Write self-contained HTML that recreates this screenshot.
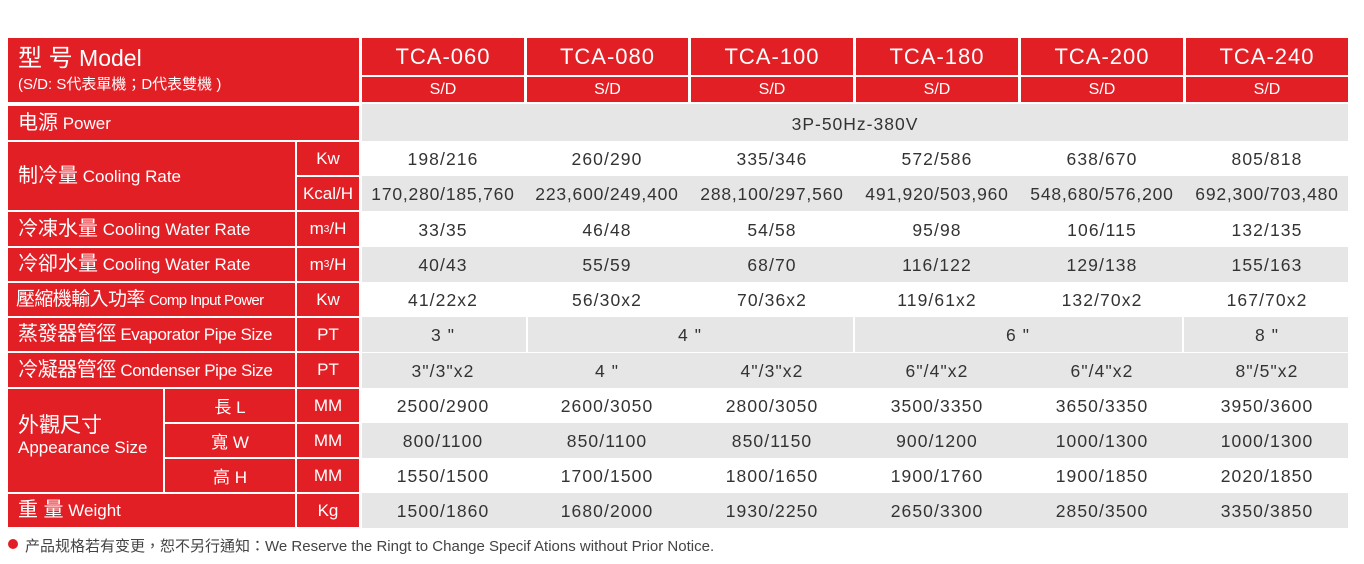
<!DOCTYPE html>
<html><head><meta charset="utf-8"><style>
body{margin:0;width:1364px;height:564px;background:#fff;position:relative;overflow:hidden;font-family:"Liberation Sans","Noto Sans CJK TC",sans-serif;}
div{position:absolute;box-sizing:border-box;}
.r{background:#e31f26;color:#fff;}
.g{background:#e6e6e6;}
.c{display:flex;align-items:center;justify-content:center;}
.l{padding-left:10px;font-size:17px;white-space:nowrap;line-height:34px;}
.l b{font-weight:normal;font-size:20px;}
.t{color:#333;font-size:17.5px;text-align:center;width:200px;margin-left:-100px;white-space:nowrap;letter-spacing:1.1px}
.k{letter-spacing:0.8px}
.u{font-size:17px;}
</style></head><body>
<div class="r" style="left:8px;top:38px;width:351px;height:64px;padding:5px 0 0 10px;">
<div style="position:static;font-size:23px;line-height:30px"><span style="font-size:24px">型 号</span> Model</div>
<div style="position:static;font-size:15px;line-height:22px">(S/D: S代表單機；D代表雙機 )</div></div>

<div class="r c" style="left:362px;top:38px;width:162px;height:37px;font-size:22px;letter-spacing:1px">TCA-060</div>
<div class="r c" style="left:527px;top:38px;width:161px;height:37px;font-size:22px;letter-spacing:1px">TCA-080</div>
<div class="r c" style="left:691px;top:38px;width:162px;height:37px;font-size:22px;letter-spacing:1px">TCA-100</div>
<div class="r c" style="left:856px;top:38px;width:162px;height:37px;font-size:22px;letter-spacing:1px">TCA-180</div>
<div class="r c" style="left:1021px;top:38px;width:162px;height:37px;font-size:22px;letter-spacing:1px">TCA-200</div>
<div class="r c" style="left:1186px;top:38px;width:162px;height:37px;font-size:22px;letter-spacing:1px">TCA-240</div>
<div class="r c" style="left:362px;top:77px;width:162px;height:25px;font-size:16px">S/D</div>
<div class="r c" style="left:527px;top:77px;width:161px;height:25px;font-size:16px">S/D</div>
<div class="r c" style="left:691px;top:77px;width:162px;height:25px;font-size:16px">S/D</div>
<div class="r c" style="left:856px;top:77px;width:162px;height:25px;font-size:16px">S/D</div>
<div class="r c" style="left:1021px;top:77px;width:162px;height:25px;font-size:16px">S/D</div>
<div class="r c" style="left:1186px;top:77px;width:162px;height:25px;font-size:16px">S/D</div>

<div class="r l" style="left:8px;top:106px;width:351px;height:34px"><b>电源</b> Power</div>
<div class="r l" style="left:8px;top:142px;width:287px;height:68px;line-height:68px"><b>制冷量</b> Cooling Rate</div>
<div class="r c u" style="left:297px;top:142px;width:62px;height:33px">Kw</div>
<div class="r c u" style="left:297px;top:177px;width:62px;height:33px">Kcal/H</div>
<div class="r l" style="left:8px;top:212px;width:287px;height:34px"><b>冷凍水量</b> Cooling Water Rate</div>
<div class="r c u" style="left:297px;top:212px;width:62px;height:34px">m<sup style="font-size:10px">3</sup>/H</div>
<div class="r l" style="left:8px;top:248px;width:287px;height:33px;line-height:33px"><b>冷卻水量</b> Cooling Water Rate</div>
<div class="r c u" style="left:297px;top:248px;width:62px;height:33px">m<sup style="font-size:10px">3</sup>/H</div>
<div class="r l" style="left:8px;top:283px;width:287px;height:33px;line-height:33px;padding-left:8px;letter-spacing:-0.6px"><b style="font-size:19px">壓縮機輸入功率</b> <span style="font-size:15px">Comp Input Power</span></div>
<div class="r c u" style="left:297px;top:283px;width:62px;height:33px">Kw</div>
<div class="r l" style="left:8px;top:318px;width:287px;height:33px;line-height:33px;letter-spacing:-0.4px"><b>蒸發器管徑</b> Evaporator Pipe Size</div>
<div class="r c u" style="left:297px;top:318px;width:62px;height:33px">PT</div>
<div class="r l" style="left:8px;top:353px;width:287px;height:34px;letter-spacing:-0.4px"><b>冷凝器管徑</b> Condenser Pipe Size</div>
<div class="r c u" style="left:297px;top:353px;width:62px;height:34px">PT</div>
<div class="r" style="left:8px;top:389px;width:155px;height:103px;padding:26px 0 0 10px;font-size:17px;line-height:22px"><div style="position:static;font-size:21px">外觀尺寸</div><div style="position:static">Appearance Size</div></div>
<div class="r c u" style="left:165px;top:389px;width:130px;height:33px">長 L</div>
<div class="r c u" style="left:165px;top:424px;width:130px;height:33px">寬 W</div>
<div class="r c u" style="left:165px;top:459px;width:130px;height:33px">高 H</div>
<div class="r c u" style="left:297px;top:389px;width:62px;height:33px">MM</div>
<div class="r c u" style="left:297px;top:424px;width:62px;height:33px">MM</div>
<div class="r c u" style="left:297px;top:459px;width:62px;height:33px">MM</div>
<div class="r l" style="left:8px;top:494px;width:287px;height:33px;line-height:33px"><b>重 量</b> Weight</div>
<div class="r c u" style="left:297px;top:494px;width:62px;height:33px">Kg</div>

<div class="g" style="left:362px;top:104px;width:986px;height:37px"></div>
<div class="g" style="left:362px;top:176px;width:986px;height:35px"></div>
<div class="g" style="left:362px;top:247px;width:986px;height:35px"></div>
<div class="g" style="left:362px;top:317px;width:164px;height:35px"></div>
<div class="g" style="left:528px;top:317px;width:325px;height:35px"></div>
<div class="g" style="left:855px;top:317px;width:327px;height:35px"></div>
<div class="g" style="left:1184px;top:317px;width:164px;height:35px"></div>
<div class="g" style="left:362px;top:353px;width:986px;height:35px"></div>
<div class="g" style="left:362px;top:423px;width:986px;height:35px"></div>
<div class="g" style="left:362px;top:493px;width:986px;height:35px"></div>

<div class="t" style="left:855px;top:114px;width:300px;margin-left:-150px;letter-spacing:1px">3P-50Hz-380V</div>

<div class="t" style="left:443px;top:149px">198/216</div><div class="t" style="left:607px;top:149px">260/290</div><div class="t" style="left:772px;top:149px">335/346</div><div class="t" style="left:937px;top:149px">572/586</div><div class="t" style="left:1102px;top:149px">638/670</div><div class="t" style="left:1267px;top:149px">805/818</div>
<div class="t k" style="left:443px;top:184px">170,280/185,760</div><div class="t k" style="left:607px;top:184px">223,600/249,400</div><div class="t k" style="left:772px;top:184px">288,100/297,560</div><div class="t k" style="left:937px;top:184px">491,920/503,960</div><div class="t k" style="left:1102px;top:184px">548,680/576,200</div><div class="t k" style="left:1267px;top:184px">692,300/703,480</div>
<div class="t" style="left:443px;top:220px">33/35</div><div class="t" style="left:607px;top:220px">46/48</div><div class="t" style="left:772px;top:220px">54/58</div><div class="t" style="left:937px;top:220px">95/98</div><div class="t" style="left:1102px;top:220px">106/115</div><div class="t" style="left:1267px;top:220px">132/135</div>
<div class="t" style="left:443px;top:255px">40/43</div><div class="t" style="left:607px;top:255px">55/59</div><div class="t" style="left:772px;top:255px">68/70</div><div class="t" style="left:937px;top:255px">116/122</div><div class="t" style="left:1102px;top:255px">129/138</div><div class="t" style="left:1267px;top:255px">155/163</div>
<div class="t" style="left:443px;top:290px">41/22x2</div><div class="t" style="left:607px;top:290px">56/30x2</div><div class="t" style="left:772px;top:290px">70/36x2</div><div class="t" style="left:937px;top:290px">119/61x2</div><div class="t" style="left:1102px;top:290px">132/70x2</div><div class="t" style="left:1267px;top:290px">167/70x2</div>
<div class="t" style="left:443px;top:325px">3 "</div><div class="t" style="left:690px;top:325px">4 "</div><div class="t" style="left:1018px;top:325px">6 "</div><div class="t" style="left:1267px;top:325px">8 "</div>
<div class="t" style="left:443px;top:361px">3"/3"x2</div><div class="t" style="left:607px;top:361px">4 "</div><div class="t" style="left:772px;top:361px">4"/3"x2</div><div class="t" style="left:937px;top:361px">6"/4"x2</div><div class="t" style="left:1102px;top:361px">6"/4"x2</div><div class="t" style="left:1267px;top:361px">8"/5"x2</div>
<div class="t" style="left:443px;top:396px">2500/2900</div><div class="t" style="left:607px;top:396px">2600/3050</div><div class="t" style="left:772px;top:396px">2800/3050</div><div class="t" style="left:937px;top:396px">3500/3350</div><div class="t" style="left:1102px;top:396px">3650/3350</div><div class="t" style="left:1267px;top:396px">3950/3600</div>
<div class="t" style="left:443px;top:431px">800/1100</div><div class="t" style="left:607px;top:431px">850/1100</div><div class="t" style="left:772px;top:431px">850/1150</div><div class="t" style="left:937px;top:431px">900/1200</div><div class="t" style="left:1102px;top:431px">1000/1300</div><div class="t" style="left:1267px;top:431px">1000/1300</div>
<div class="t" style="left:443px;top:466px">1550/1500</div><div class="t" style="left:607px;top:466px">1700/1500</div><div class="t" style="left:772px;top:466px">1800/1650</div><div class="t" style="left:937px;top:466px">1900/1760</div><div class="t" style="left:1102px;top:466px">1900/1850</div><div class="t" style="left:1267px;top:466px">2020/1850</div>
<div class="t" style="left:443px;top:501px">1500/1860</div><div class="t" style="left:607px;top:501px">1680/2000</div><div class="t" style="left:772px;top:501px">1930/2250</div><div class="t" style="left:937px;top:501px">2650/3300</div><div class="t" style="left:1102px;top:501px">2850/3500</div><div class="t" style="left:1267px;top:501px">3350/3850</div>

<div style="left:8px;top:539px;width:10px;height:10px;border-radius:50%;background:#e31f26"></div>
<div style="left:25px;top:535px;font-size:15px;color:#444;white-space:nowrap;letter-spacing:0px">产品规格若有变更，恕不另行通知：We Reserve the Ringt to Change Specif Ations without Prior Notice.</div>
</body></html>
